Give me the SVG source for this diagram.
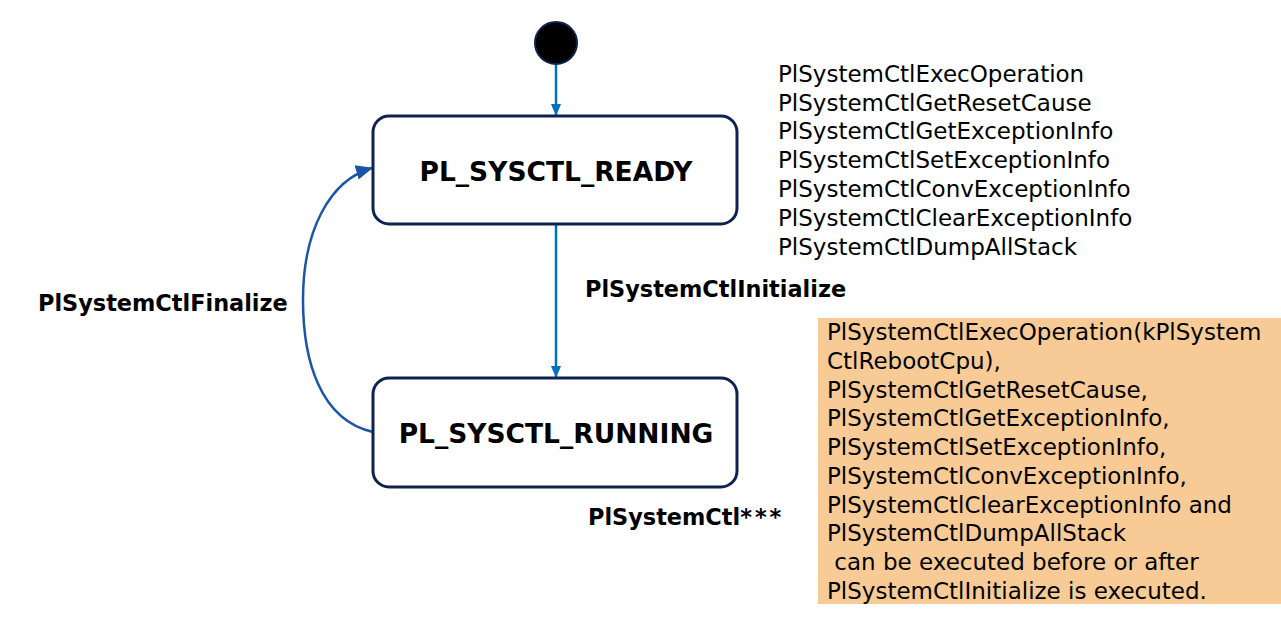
<svg xmlns="http://www.w3.org/2000/svg" width="1281" height="618" viewBox="0 0 1281 618">
<style>
.state{fill:#fff;stroke:#0E2250;stroke-width:3}
.title{font-family:"DejaVu Sans",Verdana,sans-serif;font-weight:bold;font-size:26.5px;fill:#000;text-anchor:middle}
.lbl{font-family:"DejaVu Sans",Verdana,sans-serif;font-weight:bold;font-size:22.4px;fill:#000}
.txt{font-family:"DejaVu Sans",Verdana,sans-serif;font-size:23px;fill:#000}
.edge{fill:none;stroke:#0070C0;stroke-width:2.5}
.edge2{fill:none;stroke:#1B55A8;stroke-width:2.5}
</style>
<defs>
<marker id="ah" markerWidth="12" markerHeight="14" refX="13" refY="6" orient="auto" markerUnits="userSpaceOnUse" viewBox="0 0 14 12"><path d="M0,0 L14,6 L0,12 z" fill="#0070C0"/></marker>
<marker id="ah2" markerWidth="17" markerHeight="17" refX="16" refY="7.5" orient="auto" markerUnits="userSpaceOnUse" viewBox="0 0 17 15"><path d="M0,0 L17,7.5 L0,15 z" fill="#1B55A8"/></marker>
</defs>
<g id="connectors">
<line class="edge" x1="556" y1="64" x2="556" y2="115" marker-end="url(#ah)"/>
<line class="edge" x1="556" y1="225" x2="556" y2="377" marker-end="url(#ah)"/>
<path class="edge2" d="M373,432 C320,420 303,360 303,300 C303,230 330,180 372,168" marker-end="url(#ah2)"/>
</g>
<g id="initial"><circle cx="556" cy="43" r="21" fill="#000" stroke="#0E2250" stroke-width="2"/></g>
<g id="ready">
<rect class="state" x="373" y="116" width="364" height="108" rx="16"/>
<text class="title" x="556" y="181">PL_SYSCTL_READY</text>
</g>
<g id="running">
<rect class="state" x="373" y="378" width="364" height="109" rx="16"/>
<text class="title" x="556" y="443">PL_SYSCTL_RUNNING</text>
</g>
<g id="labels">
<text class="lbl" x="38" y="311">PlSystemCtlFinalize</text>
<text class="lbl" x="585" y="297">PlSystemCtlInitialize</text>
<text class="lbl" x="588" y="525">PlSystemCtl<tspan letter-spacing="3">***</tspan></text>
</g>
<g id="api-list">
<text class="txt" x="778" y="82">PlSystemCtlExecOperation</text>
<text class="txt" x="778" y="111">PlSystemCtlGetResetCause</text>
<text class="txt" x="778" y="139">PlSystemCtlGetExceptionInfo</text>
<text class="txt" x="778" y="168">PlSystemCtlSetExceptionInfo</text>
<text class="txt" x="778" y="197">PlSystemCtlConvExceptionInfo</text>
<text class="txt" x="778" y="226">PlSystemCtlClearExceptionInfo</text>
<text class="txt" x="778" y="255">PlSystemCtlDumpAllStack</text>
</g>
<g id="note">
<rect x="818" y="318" width="463" height="286" fill="#F8CB96"/>
<text class="txt" x="827" y="340">PlSystemCtlExecOperation(kPlSystem</text>
<text class="txt" x="827" y="369">CtlRebootCpu),</text>
<text class="txt" x="827" y="398">PlSystemCtlGetResetCause,</text>
<text class="txt" x="827" y="426">PlSystemCtlGetExceptionInfo,</text>
<text class="txt" x="827" y="455">PlSystemCtlSetExceptionInfo,</text>
<text class="txt" x="827" y="484">PlSystemCtlConvExceptionInfo,</text>
<text class="txt" x="827" y="513">PlSystemCtlClearExceptionInfo and</text>
<text class="txt" x="827" y="541">PlSystemCtlDumpAllStack</text>
<text class="txt" x="827" y="570" xml:space="preserve"> can be executed before or after</text>
<text class="txt" x="827" y="599">PlSystemCtlInitialize is executed.</text>
</g>
</svg>
